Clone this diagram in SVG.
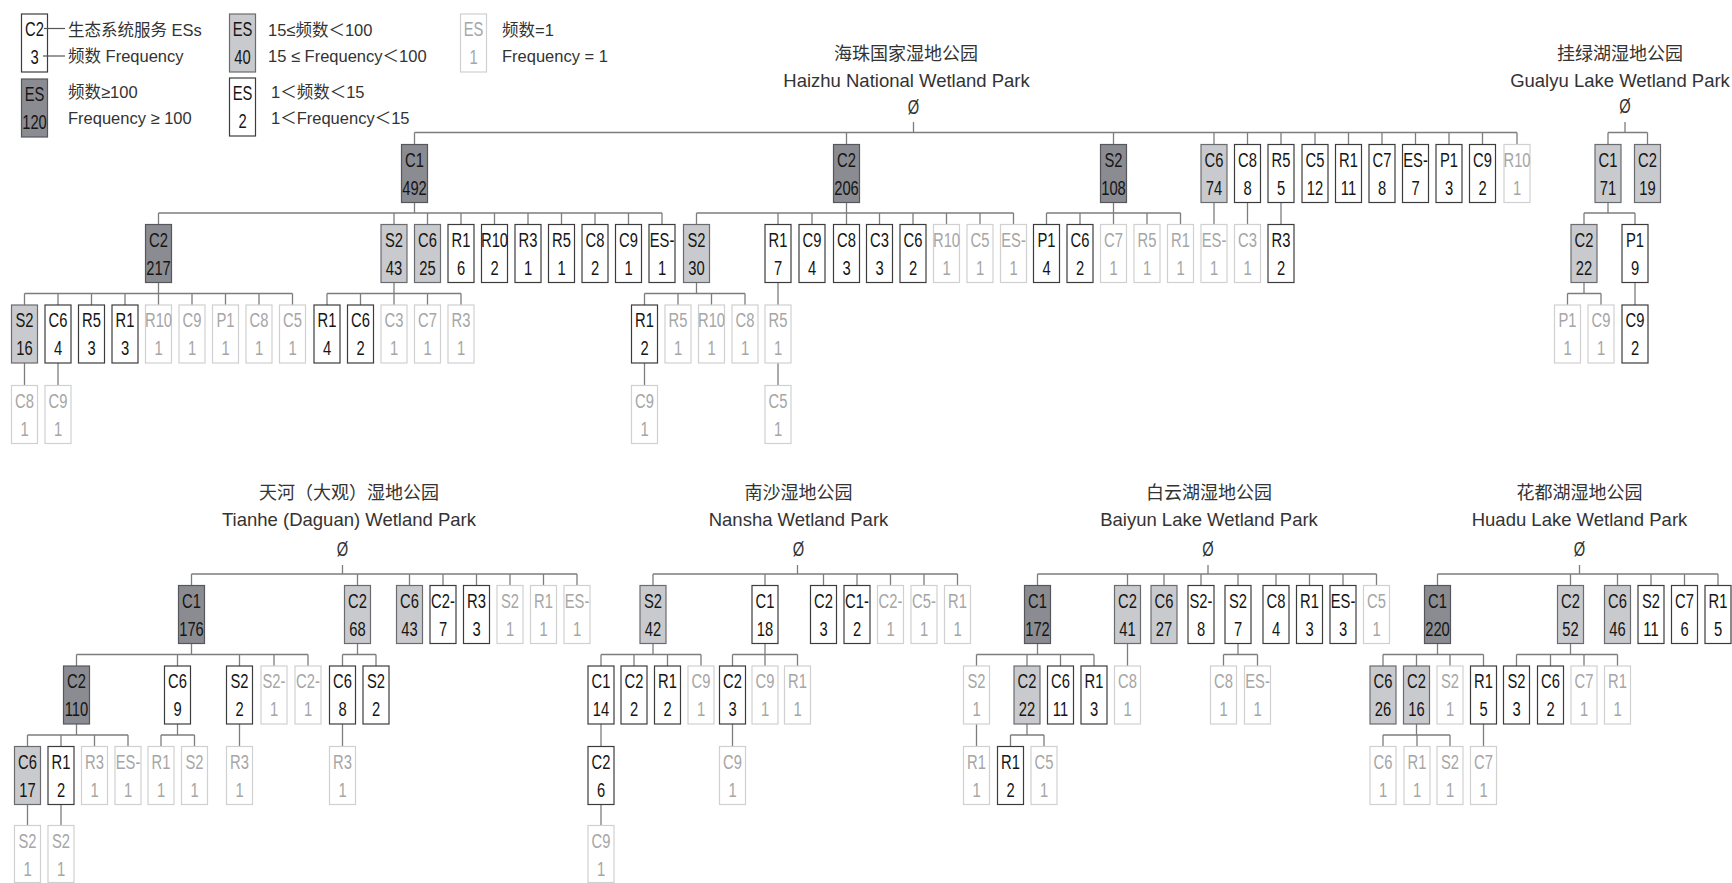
<svg xmlns="http://www.w3.org/2000/svg" width="1732" height="883" viewBox="0 0 1732 883">
<style>
.n rect{stroke-width:1.2}
.k rect{fill:#8b8c91;stroke:#56575c}
.g rect{fill:#c9cacd;stroke:#6b6c70}
.w rect{fill:#fff;stroke:#3c3c3c}
.f rect{fill:#fff;stroke:#d0d0d0}
.n text{font-family:"Liberation Sans",Arial,sans-serif;font-size:20.5px;text-anchor:middle;fill:#151515}
.f text{fill:#a6a6a6}
.n .a{transform:translate(13px,22px) scale(.72,1)}
.n .b{transform:translate(13px,50px) scale(.72,1)}
.cn{fill:none;stroke:#7d7d7d;stroke-width:1.3}
.zh{font-family:"Noto Sans CJK SC",sans-serif;font-size:18px;fill:#333;text-anchor:middle}
.en{font-family:"Liberation Sans",Arial,sans-serif;font-size:18.5px;fill:#333;text-anchor:middle}
.phi{font-family:"Liberation Sans",Arial,sans-serif;font-size:21px;fill:#333;text-anchor:middle}
.lt{font-family:"Liberation Sans","Noto Sans CJK SC",sans-serif;font-size:16.5px;fill:#333}
.ll{stroke:#555;stroke-width:1.2}
</style>
<rect width="1732" height="883" fill="#fff"/>

<g id="legend">
<g id="lg-c2" class="n w" transform="translate(21.5,14)"><rect width="26" height="58"/><text class="a">C2</text><text class="b">3</text></g>
<line class="ll" x1="44" y1="28.5" x2="65" y2="28.5"/><line class="ll" x1="43" y1="56" x2="65" y2="56"/>
<text class="lt" x="68" y="35.5">生态系统服务  ESs</text>
<text class="lt" x="68" y="62">频数  Frequency</text>
<g id="lg-dark" class="n k" transform="translate(21.5,79)"><rect width="26" height="58"/><text class="a">ES</text><text class="b">120</text></g>
<text class="lt" x="68" y="98">频数≥100</text>
<text class="lt" x="68" y="124">Frequency ≥ 100</text>
<g id="lg-light" class="n g" transform="translate(229.5,14)"><rect width="26" height="58"/><text class="a">ES</text><text class="b">40</text></g>
<text class="lt" x="268" y="35.5">15≤频数＜100</text>
<text class="lt" x="268" y="62">15 ≤ Frequency＜100</text>
<g id="lg-white" class="n w" transform="translate(229.5,78)"><rect width="26" height="58"/><text class="a">ES</text><text class="b">2</text></g>
<text class="lt" x="271" y="98">1＜频数＜15</text>
<text class="lt" x="271" y="124">1＜Frequency＜15</text>
<g id="lg-faded" class="n f" transform="translate(460.5,14)"><rect width="26" height="58"/><text class="a">ES</text><text class="b">1</text></g>
<text class="lt" x="502" y="35.5">频数=1</text>
<text class="lt" x="502" y="62">Frequency = 1</text>
</g>

<g id="titles">
<text class="zh" x="906" y="60">海珠国家湿地公园</text>
<text class="en" x="906.5" y="87">Haizhu National Wetland Park</text>
<text class="phi" transform="translate(913.5,113.5) scale(.7,1)">Ø</text>
<text class="zh" x="1620" y="60">挂绿湖湿地公园</text>
<text class="en" x="1620" y="87">Gualyu Lake Wetland Park</text>
<text class="phi" transform="translate(1625,113) scale(.7,1)">Ø</text>
<text class="zh" x="349" y="499">天河（大观）湿地公园</text>
<text class="en" x="349" y="526">Tianhe (Daguan) Wetland Park</text>
<text class="phi" transform="translate(342.5,555.5) scale(.7,1)">Ø</text>
<text class="zh" x="798.5" y="499">南沙湿地公园</text>
<text class="en" x="798.5" y="526">Nansha Wetland Park</text>
<text class="phi" transform="translate(798.5,555.5) scale(.7,1)">Ø</text>
<text class="zh" x="1209" y="499">白云湖湿地公园</text>
<text class="en" x="1209" y="526">Baiyun Lake Wetland Park</text>
<text class="phi" transform="translate(1208,555.5) scale(.7,1)">Ø</text>
<text class="zh" x="1579.5" y="499">花都湖湿地公园</text>
<text class="en" x="1579.5" y="526">Huadu Lake Wetland Park</text>
<text class="phi" transform="translate(1579.5,555.5) scale(.7,1)">Ø</text>
</g>

<g id="connectors" class="cn">
<path d="M913.5 122V132.5M414.5 132.5H1517M414.5 132.5V144.5M846.5 132.5V144.5M1113.5 132.5V144.5M1214 132.5V144.5M1247.5 132.5V144.5M1281 132.5V144.5M1315 132.5V144.5M1348.5 132.5V144.5M1382 132.5V144.5M1415.5 132.5V144.5M1449 132.5V144.5M1482.5 132.5V144.5M1517 132.5V144.5"/>
<path d="M414.5 202.5V213M158.5 213H662M158.5 213V224.5M394 213V224.5M427.5 213V224.5M461 213V224.5M494.5 213V224.5M528 213V224.5M561.5 213V224.5M595 213V224.5M628.5 213V224.5M662 213V224.5"/>
<path d="M846.5 202.5V213M696.5 213H1013.5M696.5 213V224.5M778 213V224.5M812 213V224.5M846.5 213V224.5M879.5 213V224.5M913 213V224.5M946.5 213V224.5M980 213V224.5M1013.5 213V224.5"/>
<path d="M1113.5 202.5V213M1046.5 213H1180.5M1046.5 213V224.5M1080 213V224.5M1113.5 213V224.5M1147 213V224.5M1180.5 213V224.5M1214 202.5V224.5M1247.5 202.5V224.5M1281 202.5V224.5"/>
<path d="M158.5 282.5V293.5M24.5 293.5H292.5M24.5 293.5V305M58 293.5V305M91.5 293.5V305M125 293.5V305M158.5 293.5V305M192 293.5V305M225.5 293.5V305M259 293.5V305M292.5 293.5V305"/>
<path d="M394 282.5V293.5M327 293.5H461M327 293.5V305M360.5 293.5V305M394 293.5V305M427.5 293.5V305M461 293.5V305"/>
<path d="M696.5 282.5V293.5M644.5 293.5H745M644.5 293.5V305M678 293.5V305M711.5 293.5V305M745 293.5V305M778 282.5V305"/>
<path d="M24.5 363V385.5M58 363V385.5M644.5 363V385.5M778 363V385.5"/>
<path d="M1625 122V132.5M1608 132.5H1647.5M1608 132.5V144.5M1647.5 132.5V144.5M1608 202.5V213M1584 213H1635M1584 213V224.5M1635 213V224.5M1584 282.5V293.5M1567.5 293.5H1601M1567.5 293.5V305M1601 293.5V305M1635 282.5V305"/>
<path d="M342.5 565V574M191.5 574H577M191.5 574V585.5M357.5 574V585.5M409.5 574V585.5M443 574V585.5M476.5 574V585.5M510 574V585.5M543.5 574V585.5M577 574V585.5"/>
<path d="M191.5 643.5V654.5M76.5 654.5H308M76.5 654.5V666M177.5 654.5V666M239.5 654.5V666M274 654.5V666M308 654.5V666M357.5 643.5V654.5M342.5 654.5H376M342.5 654.5V666M376 654.5V666"/>
<path d="M76.5 724V735M27.5 735H128M27.5 735V746.5M61 735V746.5M94.5 735V746.5M128 735V746.5M177.5 724V735M161 735H194.5M161 735V746.5M194.5 735V746.5M239.5 724V746.5M342.5 724V746.5M27.5 804.5V825.5M61 804.5V825.5"/>
<path d="M797.5 565V574M653 574H957.5M653 574V585.5M765 574V585.5M823.5 574V585.5M857 574V585.5M890.5 574V585.5M924 574V585.5M957.5 574V585.5"/>
<path d="M653 643.5V654.5M601 654.5H701M601 654.5V666M634 654.5V666M667.5 654.5V666M701 654.5V666M765 643.5V654.5M732.5 654.5H797.5M732.5 654.5V666M765 654.5V666M797.5 654.5V666M601 724V746.5M732.5 724V746.5M601 804.5V825.5"/>
<path d="M1208 565V574M1037.5 574H1376.5M1037.5 574V585.5M1127.5 574V585.5M1164 574V585.5M1201 574V585.5M1238 574V585.5M1276 574V585.5M1309.5 574V585.5M1343 574V585.5M1376.5 574V585.5"/>
<path d="M1037.5 643.5V654.5M976.5 654.5H1094M976.5 654.5V666M1027 654.5V666M1060.5 654.5V666M1094 654.5V666M1127.5 643.5V666M1238 643.5V654.5M1223.5 654.5H1257.5M1223.5 654.5V666M1257.5 654.5V666M976.5 724V746.5M1027 724V735M1010.5 735H1044M1010.5 735V746.5M1044 735V746.5"/>
<path d="M1579.5 565V574M1437.5 574H1718M1437.5 574V585.5M1570.5 574V585.5M1617.5 574V585.5M1651 574V585.5M1684.5 574V585.5M1718 574V585.5"/>
<path d="M1437.5 643.5V654.5M1383 654.5H1483.5M1383 654.5V666M1416.5 654.5V666M1450 654.5V666M1483.5 654.5V666M1570.5 643.5V654.5M1516.5 654.5H1617.5M1516.5 654.5V666M1550.5 654.5V666M1584 654.5V666M1617.5 654.5V666M1416.5 724V735M1383 735H1450M1383 735V746.5M1417 735V746.5M1450 735V746.5M1483.5 724V746.5"/>
</g>

<g id="haizhu">
<g id="hz-c1" class="n k" transform="translate(401.5,144.5)"><rect width="26" height="58"/><text class="a">C1</text><text class="b">492</text></g>
<g id="hz-c2" class="n k" transform="translate(833.5,144.5)"><rect width="26" height="58"/><text class="a">C2</text><text class="b">206</text></g>
<g id="hz-s2" class="n k" transform="translate(1100.5,144.5)"><rect width="26" height="58"/><text class="a">S2</text><text class="b">108</text></g>
<g id="hz-c6" class="n g" transform="translate(1201,144.5)"><rect width="26" height="58"/><text class="a">C6</text><text class="b">74</text></g>
<g id="hz-c8" class="n w" transform="translate(1234.5,144.5)"><rect width="26" height="58"/><text class="a">C8</text><text class="b">8</text></g>
<g id="hz-r5" class="n w" transform="translate(1268,144.5)"><rect width="26" height="58"/><text class="a">R5</text><text class="b">5</text></g>
<g id="hz-c5" class="n w" transform="translate(1302,144.5)"><rect width="26" height="58"/><text class="a">C5</text><text class="b">12</text></g>
<g id="hz-r1" class="n w" transform="translate(1335.5,144.5)"><rect width="26" height="58"/><text class="a">R1</text><text class="b">11</text></g>
<g id="hz-c7" class="n w" transform="translate(1369,144.5)"><rect width="26" height="58"/><text class="a">C7</text><text class="b">8</text></g>
<g id="hz-es" class="n w" transform="translate(1402.5,144.5)"><rect width="26" height="58"/><text class="a">ES-</text><text class="b">7</text></g>
<g id="hz-p1" class="n w" transform="translate(1436,144.5)"><rect width="26" height="58"/><text class="a">P1</text><text class="b">3</text></g>
<g id="hz-c9" class="n w" transform="translate(1469.5,144.5)"><rect width="26" height="58"/><text class="a">C9</text><text class="b">2</text></g>
<g id="hz-r10" class="n f" transform="translate(1504,144.5)"><rect width="26" height="58"/><text class="a">R10</text><text class="b">1</text></g>

<g id="hz-c1-c2" class="n k" transform="translate(145.5,224.5)"><rect width="26" height="58"/><text class="a">C2</text><text class="b">217</text></g>
<g id="hz-c1-s2" class="n g" transform="translate(381,224.5)"><rect width="26" height="58"/><text class="a">S2</text><text class="b">43</text></g>
<g id="hz-c1-c6" class="n g" transform="translate(414.5,224.5)"><rect width="26" height="58"/><text class="a">C6</text><text class="b">25</text></g>
<g id="hz-c1-r1" class="n w" transform="translate(448,224.5)"><rect width="26" height="58"/><text class="a">R1</text><text class="b">6</text></g>
<g id="hz-c1-r10" class="n w" transform="translate(481.5,224.5)"><rect width="26" height="58"/><text class="a">R10</text><text class="b">2</text></g>
<g id="hz-c1-r3" class="n w" transform="translate(515,224.5)"><rect width="26" height="58"/><text class="a">R3</text><text class="b">1</text></g>
<g id="hz-c1-r5" class="n w" transform="translate(548.5,224.5)"><rect width="26" height="58"/><text class="a">R5</text><text class="b">1</text></g>
<g id="hz-c1-c8" class="n w" transform="translate(582,224.5)"><rect width="26" height="58"/><text class="a">C8</text><text class="b">2</text></g>
<g id="hz-c1-c9" class="n w" transform="translate(615.5,224.5)"><rect width="26" height="58"/><text class="a">C9</text><text class="b">1</text></g>
<g id="hz-c1-es" class="n w" transform="translate(649,224.5)"><rect width="26" height="58"/><text class="a">ES-</text><text class="b">1</text></g>
<g id="hz-c2-s2" class="n g" transform="translate(683.5,224.5)"><rect width="26" height="58"/><text class="a">S2</text><text class="b">30</text></g>
<g id="hz-c2-r1" class="n w" transform="translate(765,224.5)"><rect width="26" height="58"/><text class="a">R1</text><text class="b">7</text></g>
<g id="hz-c2-c9" class="n w" transform="translate(799,224.5)"><rect width="26" height="58"/><text class="a">C9</text><text class="b">4</text></g>
<g id="hz-c2-c8" class="n w" transform="translate(833.5,224.5)"><rect width="26" height="58"/><text class="a">C8</text><text class="b">3</text></g>
<g id="hz-c2-c3" class="n w" transform="translate(866.5,224.5)"><rect width="26" height="58"/><text class="a">C3</text><text class="b">3</text></g>
<g id="hz-c2-c6" class="n w" transform="translate(900,224.5)"><rect width="26" height="58"/><text class="a">C6</text><text class="b">2</text></g>
<g id="hz-c2-r10" class="n f" transform="translate(933.5,224.5)"><rect width="26" height="58"/><text class="a">R10</text><text class="b">1</text></g>
<g id="hz-c2-c5" class="n f" transform="translate(967,224.5)"><rect width="26" height="58"/><text class="a">C5</text><text class="b">1</text></g>
<g id="hz-c2-es" class="n f" transform="translate(1000.5,224.5)"><rect width="26" height="58"/><text class="a">ES-</text><text class="b">1</text></g>
<g id="hz-s2-p1" class="n w" transform="translate(1033.5,224.5)"><rect width="26" height="58"/><text class="a">P1</text><text class="b">4</text></g>
<g id="hz-s2-c6" class="n w" transform="translate(1067,224.5)"><rect width="26" height="58"/><text class="a">C6</text><text class="b">2</text></g>
<g id="hz-s2-c7" class="n f" transform="translate(1100.5,224.5)"><rect width="26" height="58"/><text class="a">C7</text><text class="b">1</text></g>
<g id="hz-s2-r5" class="n f" transform="translate(1134,224.5)"><rect width="26" height="58"/><text class="a">R5</text><text class="b">1</text></g>
<g id="hz-s2-r1" class="n f" transform="translate(1167.5,224.5)"><rect width="26" height="58"/><text class="a">R1</text><text class="b">1</text></g>
<g id="hz-c6-es" class="n f" transform="translate(1201,224.5)"><rect width="26" height="58"/><text class="a">ES-</text><text class="b">1</text></g>
<g id="hz-c8-c3" class="n f" transform="translate(1234.5,224.5)"><rect width="26" height="58"/><text class="a">C3</text><text class="b">1</text></g>
<g id="hz-r5-r3" class="n w" transform="translate(1268,224.5)"><rect width="26" height="58"/><text class="a">R3</text><text class="b">2</text></g>

<g id="hz-c2217-s2" class="n g" transform="translate(11.5,305)"><rect width="26" height="58"/><text class="a">S2</text><text class="b">16</text></g>
<g id="hz-c2217-c6" class="n w" transform="translate(45,305)"><rect width="26" height="58"/><text class="a">C6</text><text class="b">4</text></g>
<g id="hz-c2217-r5" class="n w" transform="translate(78.5,305)"><rect width="26" height="58"/><text class="a">R5</text><text class="b">3</text></g>
<g id="hz-c2217-r1" class="n w" transform="translate(112,305)"><rect width="26" height="58"/><text class="a">R1</text><text class="b">3</text></g>
<g id="hz-c2217-r10" class="n f" transform="translate(145.5,305)"><rect width="26" height="58"/><text class="a">R10</text><text class="b">1</text></g>
<g id="hz-c2217-c9" class="n f" transform="translate(179,305)"><rect width="26" height="58"/><text class="a">C9</text><text class="b">1</text></g>
<g id="hz-c2217-p1" class="n f" transform="translate(212.5,305)"><rect width="26" height="58"/><text class="a">P1</text><text class="b">1</text></g>
<g id="hz-c2217-c8" class="n f" transform="translate(246,305)"><rect width="26" height="58"/><text class="a">C8</text><text class="b">1</text></g>
<g id="hz-c2217-c5" class="n f" transform="translate(279.5,305)"><rect width="26" height="58"/><text class="a">C5</text><text class="b">1</text></g>
<g id="hz-s243-r1" class="n w" transform="translate(314,305)"><rect width="26" height="58"/><text class="a">R1</text><text class="b">4</text></g>
<g id="hz-s243-c6" class="n w" transform="translate(347.5,305)"><rect width="26" height="58"/><text class="a">C6</text><text class="b">2</text></g>
<g id="hz-s243-c3" class="n f" transform="translate(381,305)"><rect width="26" height="58"/><text class="a">C3</text><text class="b">1</text></g>
<g id="hz-s243-c7" class="n f" transform="translate(414.5,305)"><rect width="26" height="58"/><text class="a">C7</text><text class="b">1</text></g>
<g id="hz-s243-r3" class="n f" transform="translate(448,305)"><rect width="26" height="58"/><text class="a">R3</text><text class="b">1</text></g>
<g id="hz-s230-r1" class="n w" transform="translate(631.5,305)"><rect width="26" height="58"/><text class="a">R1</text><text class="b">2</text></g>
<g id="hz-s230-r5" class="n f" transform="translate(665,305)"><rect width="26" height="58"/><text class="a">R5</text><text class="b">1</text></g>
<g id="hz-s230-r10" class="n f" transform="translate(698.5,305)"><rect width="26" height="58"/><text class="a">R10</text><text class="b">1</text></g>
<g id="hz-s230-c8" class="n f" transform="translate(732,305)"><rect width="26" height="58"/><text class="a">C8</text><text class="b">1</text></g>
<g id="hz-r17-r5" class="n f" transform="translate(765,305)"><rect width="26" height="58"/><text class="a">R5</text><text class="b">1</text></g>

<g id="hz-s216-c8" class="n f" transform="translate(11.5,385.5)"><rect width="26" height="58"/><text class="a">C8</text><text class="b">1</text></g>
<g id="hz-c64-c9" class="n f" transform="translate(45,385.5)"><rect width="26" height="58"/><text class="a">C9</text><text class="b">1</text></g>
<g id="hz-r12-c9" class="n f" transform="translate(631.5,385.5)"><rect width="26" height="58"/><text class="a">C9</text><text class="b">1</text></g>
<g id="hz-r51-c5" class="n f" transform="translate(765,385.5)"><rect width="26" height="58"/><text class="a">C5</text><text class="b">1</text></g>
</g>

<g id="gualyu">
<g id="gl-c1" class="n g" transform="translate(1595,144.5)"><rect width="26" height="58"/><text class="a">C1</text><text class="b">71</text></g>
<g id="gl-c2" class="n g" transform="translate(1634.5,144.5)"><rect width="26" height="58"/><text class="a">C2</text><text class="b">19</text></g>
<g id="gl-c1-c2" class="n g" transform="translate(1571,224.5)"><rect width="26" height="58"/><text class="a">C2</text><text class="b">22</text></g>
<g id="gl-c1-p1" class="n w" transform="translate(1622,224.5)"><rect width="26" height="58"/><text class="a">P1</text><text class="b">9</text></g>
<g id="gl-c2-p1" class="n f" transform="translate(1554.5,305)"><rect width="26" height="58"/><text class="a">P1</text><text class="b">1</text></g>
<g id="gl-c2-c9" class="n f" transform="translate(1588,305)"><rect width="26" height="58"/><text class="a">C9</text><text class="b">1</text></g>
<g id="gl-p1-c9" class="n w" transform="translate(1622,305)"><rect width="26" height="58"/><text class="a">C9</text><text class="b">2</text></g>
</g>

<g id="tianhe">
<g id="th-c1" class="n k" transform="translate(178.5,585.5)"><rect width="26" height="58"/><text class="a">C1</text><text class="b">176</text></g>
<g id="th-c2" class="n g" transform="translate(344.5,585.5)"><rect width="26" height="58"/><text class="a">C2</text><text class="b">68</text></g>
<g id="th-c6" class="n g" transform="translate(396.5,585.5)"><rect width="26" height="58"/><text class="a">C6</text><text class="b">43</text></g>
<g id="th-c2m" class="n w" transform="translate(430,585.5)"><rect width="26" height="58"/><text class="a">C2-</text><text class="b">7</text></g>
<g id="th-r3" class="n w" transform="translate(463.5,585.5)"><rect width="26" height="58"/><text class="a">R3</text><text class="b">3</text></g>
<g id="th-s2" class="n f" transform="translate(497,585.5)"><rect width="26" height="58"/><text class="a">S2</text><text class="b">1</text></g>
<g id="th-r1" class="n f" transform="translate(530.5,585.5)"><rect width="26" height="58"/><text class="a">R1</text><text class="b">1</text></g>
<g id="th-es" class="n f" transform="translate(564,585.5)"><rect width="26" height="58"/><text class="a">ES-</text><text class="b">1</text></g>
<g id="th-c1-c2" class="n k" transform="translate(63.5,666)"><rect width="26" height="58"/><text class="a">C2</text><text class="b">110</text></g>
<g id="th-c1-c6" class="n w" transform="translate(164.5,666)"><rect width="26" height="58"/><text class="a">C6</text><text class="b">9</text></g>
<g id="th-c1-s2" class="n w" transform="translate(226.5,666)"><rect width="26" height="58"/><text class="a">S2</text><text class="b">2</text></g>
<g id="th-c1-s2m" class="n f" transform="translate(261,666)"><rect width="26" height="58"/><text class="a">S2-</text><text class="b">1</text></g>
<g id="th-c1-c2m" class="n f" transform="translate(295,666)"><rect width="26" height="58"/><text class="a">C2-</text><text class="b">1</text></g>
<g id="th-c2-c6" class="n w" transform="translate(329.5,666)"><rect width="26" height="58"/><text class="a">C6</text><text class="b">8</text></g>
<g id="th-c2-s2" class="n w" transform="translate(363,666)"><rect width="26" height="58"/><text class="a">S2</text><text class="b">2</text></g>
<g id="th-c2110-c6" class="n g" transform="translate(14.5,746.5)"><rect width="26" height="58"/><text class="a">C6</text><text class="b">17</text></g>
<g id="th-c2110-r1" class="n w" transform="translate(48,746.5)"><rect width="26" height="58"/><text class="a">R1</text><text class="b">2</text></g>
<g id="th-c2110-r3" class="n f" transform="translate(81.5,746.5)"><rect width="26" height="58"/><text class="a">R3</text><text class="b">1</text></g>
<g id="th-c2110-es" class="n f" transform="translate(115,746.5)"><rect width="26" height="58"/><text class="a">ES-</text><text class="b">1</text></g>
<g id="th-c69-r1" class="n f" transform="translate(148,746.5)"><rect width="26" height="58"/><text class="a">R1</text><text class="b">1</text></g>
<g id="th-c69-s2" class="n f" transform="translate(181.5,746.5)"><rect width="26" height="58"/><text class="a">S2</text><text class="b">1</text></g>
<g id="th-s22-r3" class="n f" transform="translate(226.5,746.5)"><rect width="26" height="58"/><text class="a">R3</text><text class="b">1</text></g>
<g id="th-c68-r3" class="n f" transform="translate(329.5,746.5)"><rect width="26" height="58"/><text class="a">R3</text><text class="b">1</text></g>
<g id="th-c617-s2" class="n f" transform="translate(14.5,825.5)"><rect width="26" height="57"/><text class="a">S2</text><text class="b">1</text></g>
<g id="th-r12-s2" class="n f" transform="translate(48,825.5)"><rect width="26" height="57"/><text class="a">S2</text><text class="b">1</text></g>
</g>

<g id="nansha">
<g id="ns-s2" class="n g" transform="translate(640,585.5)"><rect width="26" height="58"/><text class="a">S2</text><text class="b">42</text></g>
<g id="ns-c1" class="n w" transform="translate(752,585.5)"><rect width="26" height="58"/><text class="a">C1</text><text class="b">18</text></g>
<g id="ns-c2" class="n w" transform="translate(810.5,585.5)"><rect width="26" height="58"/><text class="a">C2</text><text class="b">3</text></g>
<g id="ns-c1m" class="n w" transform="translate(844,585.5)"><rect width="26" height="58"/><text class="a">C1-</text><text class="b">2</text></g>
<g id="ns-c2m" class="n f" transform="translate(877.5,585.5)"><rect width="26" height="58"/><text class="a">C2-</text><text class="b">1</text></g>
<g id="ns-c5m" class="n f" transform="translate(911,585.5)"><rect width="26" height="58"/><text class="a">C5-</text><text class="b">1</text></g>
<g id="ns-r1" class="n f" transform="translate(944.5,585.5)"><rect width="26" height="58"/><text class="a">R1</text><text class="b">1</text></g>
<g id="ns-s2-c1" class="n w" transform="translate(588,666)"><rect width="26" height="58"/><text class="a">C1</text><text class="b">14</text></g>
<g id="ns-s2-c2" class="n w" transform="translate(621,666)"><rect width="26" height="58"/><text class="a">C2</text><text class="b">2</text></g>
<g id="ns-s2-r1" class="n w" transform="translate(654.5,666)"><rect width="26" height="58"/><text class="a">R1</text><text class="b">2</text></g>
<g id="ns-s2-c9" class="n f" transform="translate(688,666)"><rect width="26" height="58"/><text class="a">C9</text><text class="b">1</text></g>
<g id="ns-c1-c2" class="n w" transform="translate(719.5,666)"><rect width="26" height="58"/><text class="a">C2</text><text class="b">3</text></g>
<g id="ns-c1-c9" class="n f" transform="translate(752,666)"><rect width="26" height="58"/><text class="a">C9</text><text class="b">1</text></g>
<g id="ns-c1-r1" class="n f" transform="translate(784.5,666)"><rect width="26" height="58"/><text class="a">R1</text><text class="b">1</text></g>
<g id="ns-c114-c2" class="n w" transform="translate(588,746.5)"><rect width="26" height="58"/><text class="a">C2</text><text class="b">6</text></g>
<g id="ns-c23-c9" class="n f" transform="translate(719.5,746.5)"><rect width="26" height="58"/><text class="a">C9</text><text class="b">1</text></g>
<g id="ns-c26-c9" class="n f" transform="translate(588,825.5)"><rect width="26" height="57"/><text class="a">C9</text><text class="b">1</text></g>
</g>

<g id="baiyun">
<g id="by-c1" class="n k" transform="translate(1024.5,585.5)"><rect width="26" height="58"/><text class="a">C1</text><text class="b">172</text></g>
<g id="by-c2" class="n g" transform="translate(1114.5,585.5)"><rect width="26" height="58"/><text class="a">C2</text><text class="b">41</text></g>
<g id="by-c6" class="n g" transform="translate(1151,585.5)"><rect width="26" height="58"/><text class="a">C6</text><text class="b">27</text></g>
<g id="by-s2m" class="n w" transform="translate(1188,585.5)"><rect width="26" height="58"/><text class="a">S2-</text><text class="b">8</text></g>
<g id="by-s2" class="n w" transform="translate(1225,585.5)"><rect width="26" height="58"/><text class="a">S2</text><text class="b">7</text></g>
<g id="by-c8" class="n w" transform="translate(1263,585.5)"><rect width="26" height="58"/><text class="a">C8</text><text class="b">4</text></g>
<g id="by-r1" class="n w" transform="translate(1296.5,585.5)"><rect width="26" height="58"/><text class="a">R1</text><text class="b">3</text></g>
<g id="by-es" class="n w" transform="translate(1330,585.5)"><rect width="26" height="58"/><text class="a">ES-</text><text class="b">3</text></g>
<g id="by-c5" class="n f" transform="translate(1363.5,585.5)"><rect width="26" height="58"/><text class="a">C5</text><text class="b">1</text></g>
<g id="by-c1-s2" class="n f" transform="translate(963.5,666)"><rect width="26" height="58"/><text class="a">S2</text><text class="b">1</text></g>
<g id="by-c1-c2" class="n g" transform="translate(1014,666)"><rect width="26" height="58"/><text class="a">C2</text><text class="b">22</text></g>
<g id="by-c1-c6" class="n w" transform="translate(1047.5,666)"><rect width="26" height="58"/><text class="a">C6</text><text class="b">11</text></g>
<g id="by-c1-r1" class="n w" transform="translate(1081,666)"><rect width="26" height="58"/><text class="a">R1</text><text class="b">3</text></g>
<g id="by-c2-c8" class="n f" transform="translate(1114.5,666)"><rect width="26" height="58"/><text class="a">C8</text><text class="b">1</text></g>
<g id="by-s2-c8" class="n f" transform="translate(1210.5,666)"><rect width="26" height="58"/><text class="a">C8</text><text class="b">1</text></g>
<g id="by-s2-es" class="n f" transform="translate(1244.5,666)"><rect width="26" height="58"/><text class="a">ES-</text><text class="b">1</text></g>
<g id="by-s21-r1" class="n f" transform="translate(963.5,746.5)"><rect width="26" height="58"/><text class="a">R1</text><text class="b">1</text></g>
<g id="by-c222-r1" class="n w" transform="translate(997.5,746.5)"><rect width="26" height="58"/><text class="a">R1</text><text class="b">2</text></g>
<g id="by-c222-c5" class="n f" transform="translate(1031,746.5)"><rect width="26" height="58"/><text class="a">C5</text><text class="b">1</text></g>
</g>

<g id="huadu">
<g id="hd-c1" class="n k" transform="translate(1424.5,585.5)"><rect width="26" height="58"/><text class="a">C1</text><text class="b">220</text></g>
<g id="hd-c2" class="n g" transform="translate(1557.5,585.5)"><rect width="26" height="58"/><text class="a">C2</text><text class="b">52</text></g>
<g id="hd-c6" class="n g" transform="translate(1604.5,585.5)"><rect width="26" height="58"/><text class="a">C6</text><text class="b">46</text></g>
<g id="hd-s2" class="n w" transform="translate(1638,585.5)"><rect width="26" height="58"/><text class="a">S2</text><text class="b">11</text></g>
<g id="hd-c7" class="n w" transform="translate(1671.5,585.5)"><rect width="26" height="58"/><text class="a">C7</text><text class="b">6</text></g>
<g id="hd-r1" class="n w" transform="translate(1705,585.5)"><rect width="26" height="58"/><text class="a">R1</text><text class="b">5</text></g>
<g id="hd-c1-c6" class="n g" transform="translate(1370,666)"><rect width="26" height="58"/><text class="a">C6</text><text class="b">26</text></g>
<g id="hd-c1-c2" class="n g" transform="translate(1403.5,666)"><rect width="26" height="58"/><text class="a">C2</text><text class="b">16</text></g>
<g id="hd-c1-s2" class="n f" transform="translate(1437,666)"><rect width="26" height="58"/><text class="a">S2</text><text class="b">1</text></g>
<g id="hd-c1-r1" class="n w" transform="translate(1470.5,666)"><rect width="26" height="58"/><text class="a">R1</text><text class="b">5</text></g>
<g id="hd-c2-s2" class="n w" transform="translate(1503.5,666)"><rect width="26" height="58"/><text class="a">S2</text><text class="b">3</text></g>
<g id="hd-c2-c6" class="n w" transform="translate(1537.5,666)"><rect width="26" height="58"/><text class="a">C6</text><text class="b">2</text></g>
<g id="hd-c2-c7" class="n f" transform="translate(1571,666)"><rect width="26" height="58"/><text class="a">C7</text><text class="b">1</text></g>
<g id="hd-c2-r1" class="n f" transform="translate(1604.5,666)"><rect width="26" height="58"/><text class="a">R1</text><text class="b">1</text></g>
<g id="hd-c216-c6" class="n f" transform="translate(1370,746.5)"><rect width="26" height="58"/><text class="a">C6</text><text class="b">1</text></g>
<g id="hd-c216-r1" class="n f" transform="translate(1404,746.5)"><rect width="26" height="58"/><text class="a">R1</text><text class="b">1</text></g>
<g id="hd-c216-s2" class="n f" transform="translate(1437,746.5)"><rect width="26" height="58"/><text class="a">S2</text><text class="b">1</text></g>
<g id="hd-r15-c7" class="n f" transform="translate(1470.5,746.5)"><rect width="26" height="58"/><text class="a">C7</text><text class="b">1</text></g>
</g>
</svg>
